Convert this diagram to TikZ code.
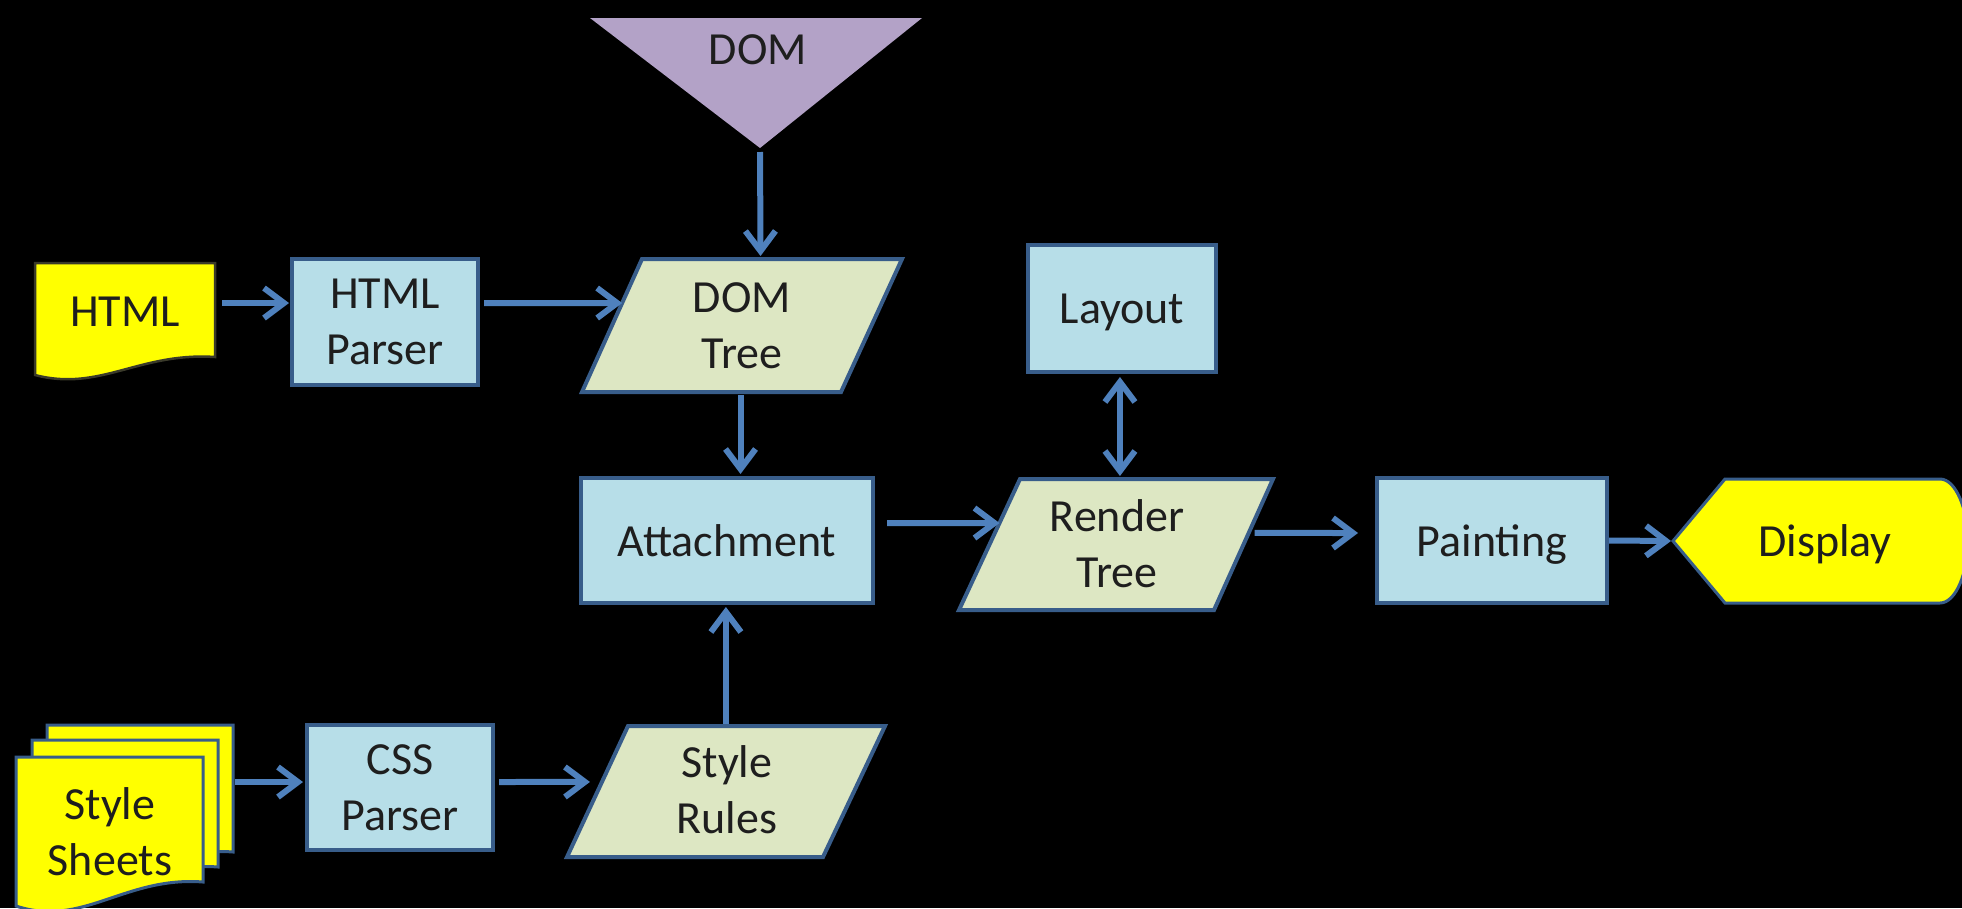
\documentclass[tikz,border=0pt]{standalone}
\usepackage{fontspec}
\setmainfont{Carlito}
\usetikzlibrary{arrows.meta,calc}
\definecolor{arrblue}{HTML}{4F81BD}
\definecolor{boxfill}{HTML}{B7DEE8}
\definecolor{boxline}{HTML}{385D8A}
\definecolor{parafill}{HTML}{DDE7C3}
\definecolor{docyellow}{HTML}{FFFF00}
\definecolor{docdark}{HTML}{3A3A2A}
\definecolor{domfill}{HTML}{B3A2C7}
\definecolor{txt}{HTML}{1E1E1E}
\begin{document}
\begin{tikzpicture}[x=1pt,y=-1pt,
  lbl/.style={font=\fontsize{46}{56}\selectfont, text=txt, align=center, inner sep=0pt, text depth=0pt},
  procbox/.style={lbl, draw=boxline, fill=boxfill, line width=4pt},
  para/.style={draw=boxline, fill=parafill, line width=4pt, line join=miter},
  docst/.style={draw=docdark, fill=docyellow, line width=2.5pt},
  sheetst/.style={draw=boxline, fill=docyellow, line width=3pt},
  dispst/.style={draw=boxline, fill=docyellow, line width=3pt},
  arr/.style={draw=arrblue, line width=6pt, -{Straight Barb[length=20pt,width=30pt]}},
  dblarr/.style={draw=arrblue, line width=6pt, {Straight Barb[length=20pt,width=30pt]}-{Straight Barb[length=20pt,width=30pt]}}
]
\useasboundingbox (0,0) rectangle (1962,908);
\fill[black] (0,0) rectangle (1962,908);
\clip (0,0) rectangle (1962,908);

% DOM triangle
\fill[domfill] (590,18) -- (922,18) -- (760,148) -- cycle;
\coordinate (domapex) at (760,148);
\node[lbl] (dom) at (758,50) {DOM};

% HTML document
\path[docst] (35,263) -- (215,263) -- (215,357) .. controls (139,352) and (100,392) .. (35,375) -- cycle;
\node[lbl, minimum width=180pt] (html) at (125,311.5) {HTML};

% Style sheets stack
\path[sheetst] (47,725) -- (233,725) -- (233,852) .. controls (155,846) and (114,899) .. (47,876) -- cycle;
\path[sheetst] (32,740) -- (218,740) -- (218,867) .. controls (140,861) and (99,914) .. (32,891) -- cycle;
\path[sheetst] (16,757) -- (203,757) -- (203,882) .. controls (124.5,876) and (83,928) .. (16,906) -- cycle;
\node[lbl] (sheets) at (110,832) {Style\\Sheets};
\coordinate (ssout) at (235,782);

% Process boxes
\node[procbox, minimum width=186pt, minimum height=126pt] (htmlparser) at (385,322) {HTML\\Parser};
\node[procbox, minimum width=292pt, minimum height=125pt] (attach) at (727,540.5) {Attachment};
\node[procbox, minimum width=188pt, minimum height=127pt] (layout) at (1122,308.5) {Layout};
\node[procbox, minimum width=230pt, minimum height=125pt] (painting) at (1492,540.5) {Painting};
\node[procbox, minimum width=186pt, minimum height=125pt] (cssparser) at (400,787.5) {CSS\\Parser};

% DOM Tree
\coordinate (dtTL) at (642,259);
\coordinate (dtTR) at (902,259);
\coordinate (dtBR) at (841,392);
\coordinate (dtBL) at (582,392);
\path[para] (dtTL) -- (dtTR) -- (dtBR) -- (dtBL) -- cycle;
\node[lbl] (domtree) at (742,326) {DOM\\Tree};

% Render Tree
\coordinate (rtTL) at (1020,479);
\coordinate (rtTR) at (1273,479);
\coordinate (rtBR) at (1214,610);
\coordinate (rtBL) at (959,610);
\path[para] (rtTL) -- (rtTR) -- (rtBR) -- (rtBL) -- cycle;
\node[lbl] (rendertree) at (1117,544) {Render\\Tree};

% Style Rules
\coordinate (srTL) at (628,726);
\coordinate (srTR) at (885,726);
\coordinate (srBR) at (823,857);
\coordinate (srBL) at (567,857);
\path[para] (srTL) -- (srTR) -- (srBR) -- (srBL) -- cycle;
\node[lbl] (stylerules) at (727,790) {Style\\Rules};

% Display
\path[dispst] (1673,541) -- (1725,479) -- (1940,479) .. controls (1956,479) and (1968,510) .. (1968,541) .. controls (1968,572) and (1956,603) .. (1940,603) -- (1725,603) -- cycle;
\coordinate (dispL) at (1673,541);
\node[lbl] (display) at (1825,541) {Display};

% Connectors
\draw[arr, shorten >=1pt] ([xshift=7pt,yshift=8.5pt]html.east) -- ([yshift=19pt]htmlparser.west);
\coordinate (dtin) at ($(dtTL)!0.331!(dtBL)$);
\draw[arr] ([xshift=4pt,yshift=19pt]htmlparser.east) -- (dtin);
\coordinate (dttop) at ($(dtTL)!0.456!(dtTR)$);
\draw[arr, shorten <=4pt, shorten >=3pt] (domapex) -- (dttop);
\coordinate (dtbot) at ($(dtBL)!0.612!(dtBR)$);
\draw[arr, shorten <=3pt, shorten >=2pt] (dtbot) -- (dtbot |- attach.north);
\coordinate (srtop) at ($(srTL)!0.381!(srTR)$);
\draw[arr, shorten <=2pt, shorten >=2pt] (srtop) -- (srtop |- attach.south);
\coordinate (srin) at ($(srTL)!0.427!(srBL)$);
\draw[arr, shorten <=4pt, shorten >=12pt] ([yshift=5.5pt]cssparser.east) -- (srin);
\draw[arr, shorten >=2pt] (ssout) -- ([yshift=5.5pt]cssparser.west);
\coordinate (rtin) at ($(rtTL)!0.336!(rtBL)$);
\draw[arr] ([xshift=12pt,yshift=17.5pt]attach.east) -- (rtin);
\coordinate (rtout) at ($(rtTR)!0.412!(rtBR)$);
\draw[arr, shorten <=6pt, shorten >=17pt] (rtout) -- ([yshift=7.5pt]painting.west);
\coordinate (rttop) at ($(rtTL)!0.395!(rtTR)$);
\draw[dblarr, shorten <=3pt, shorten >=3pt] (rttop |- layout.south) -- (rttop);
\draw[arr, shorten >=2pt] (painting.east) -- (dispL);
\end{tikzpicture}
\end{document}
